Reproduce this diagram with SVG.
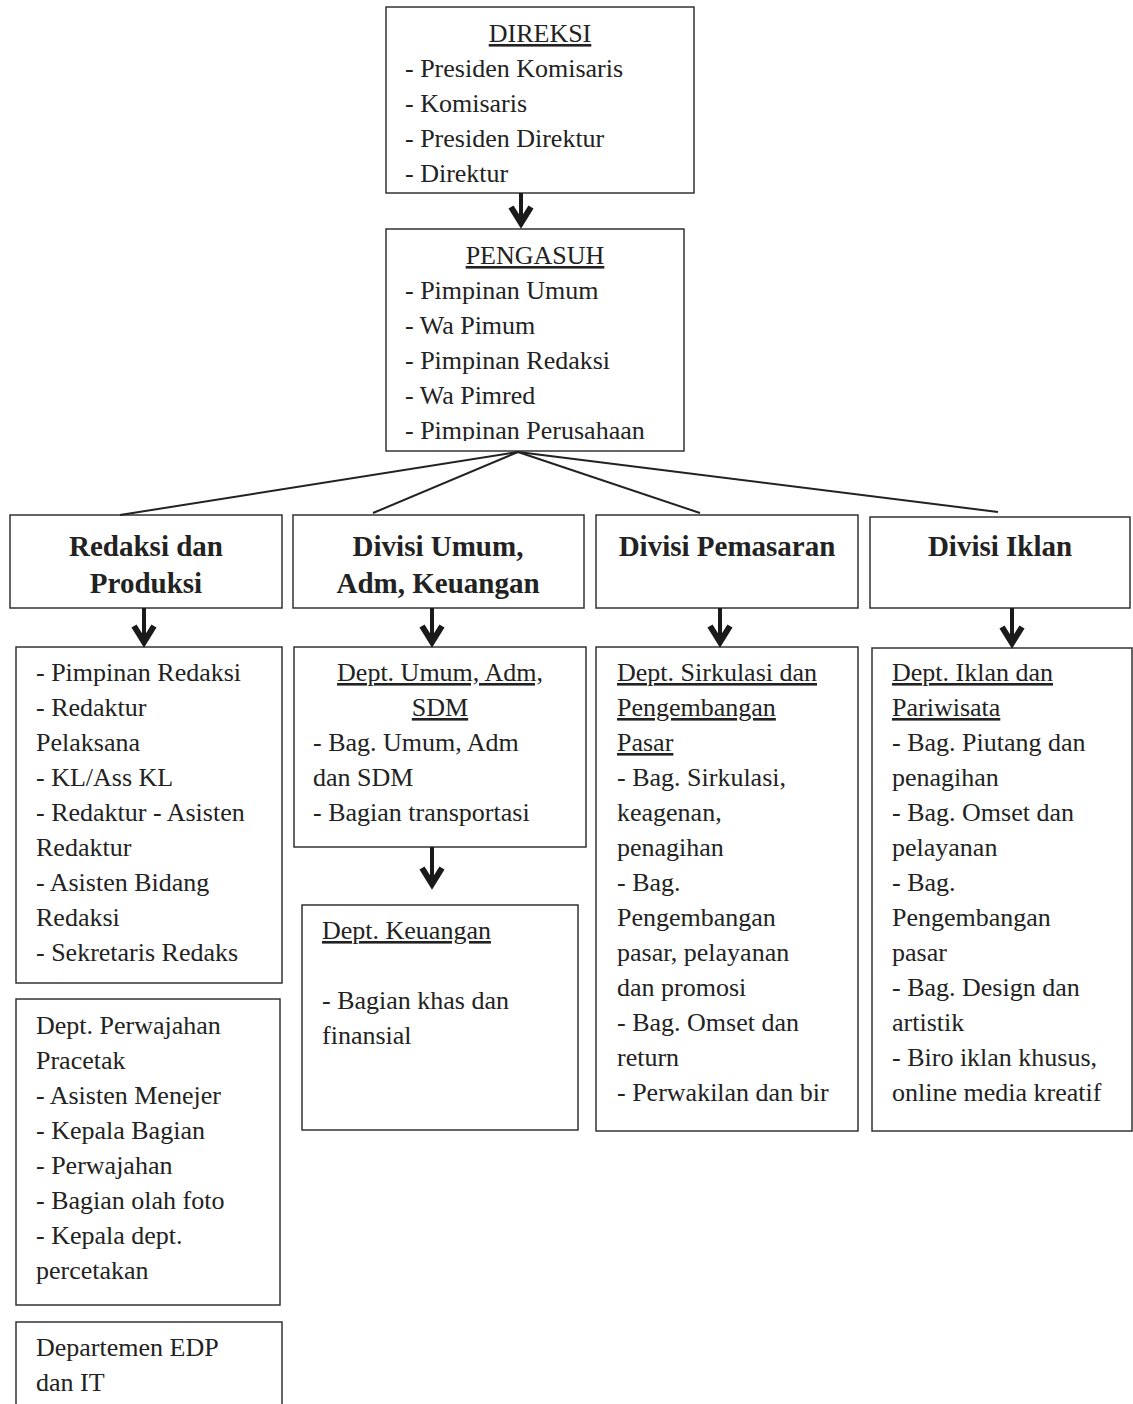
<svg xmlns="http://www.w3.org/2000/svg" width="1133" height="1404" viewBox="0 0 1133 1404">
<style>
.box{fill:#fff;stroke:#333;stroke-width:1.5}
.t{font-family:"Liberation Serif","Times New Roman",serif;font-size:26px;fill:#222}
.u{text-decoration:underline}
.c{text-anchor:middle}
.h{font-family:"Liberation Serif","Times New Roman",serif;font-size:29px;font-weight:bold;fill:#222;text-anchor:middle}
.ln{stroke:#222;stroke-width:2;fill:none}
.sh{stroke:#1a1a1a;stroke-width:4;fill:none}
.hd{stroke:#1a1a1a;stroke-width:6;fill:none;stroke-linejoin:miter;stroke-miterlimit:10;stroke-linecap:butt}
</style>
<defs>
<clipPath id="cp2"><rect x="386" y="229" width="298" height="212"/></clipPath>
</defs>
<rect width="1133" height="1404" fill="#fff"/>
<g id="direksi">
<rect class="box" x="386" y="7" width="308" height="186"/>
<text class="t u c" x="540" y="42">DIREKSI</text>
<text class="t" x="405" y="77">- Presiden Komisaris</text>
<text class="t" x="405" y="112">- Komisaris</text>
<text class="t" x="405" y="147">- Presiden Direktur</text>
<text class="t" x="405" y="182">- Direktur</text>
</g>
<g id="pengasuh">
<rect class="box" x="386" y="229" width="298" height="222"/>
<text class="t u c" x="535" y="264">PENGASUH</text>
<text class="t" x="405" y="299">- Pimpinan Umum</text>
<text class="t" x="405" y="334">- Wa Pimum</text>
<text class="t" x="405" y="369">- Pimpinan Redaksi</text>
<text class="t" x="405" y="404">- Wa Pimred</text>
<text class="t" x="405" y="439" clip-path="url(#cp2)">- Pimpinan Perusahaan</text>
</g>
<g id="div-redaksi">
<rect class="box" x="10" y="515" width="272" height="93"/>
<text class="h" x="146" y="556">Redaksi dan</text>
<text class="h" x="146" y="593">Produksi</text>
</g>
<g id="div-umum">
<rect class="box" x="293" y="515" width="291" height="93"/>
<text class="h" x="438" y="556">Divisi Umum,</text>
<text class="h" x="438" y="593">Adm, Keuangan</text>
</g>
<g id="div-pemasaran">
<rect class="box" x="596" y="515" width="262" height="93"/>
<text class="h" x="727" y="556">Divisi Pemasaran</text>
</g>
<g id="div-iklan">
<rect class="box" x="870" y="517" width="260" height="91"/>
<text class="h" x="1000" y="556">Divisi Iklan</text>
</g>
<g id="redaksi-list">
<rect class="box" x="16" y="647" width="266" height="336"/>
<text class="t" x="36" y="681">- Pimpinan Redaksi</text>
<text class="t" x="36" y="716">- Redaktur</text>
<text class="t" x="36" y="751">Pelaksana</text>
<text class="t" x="36" y="786">- KL/Ass KL</text>
<text class="t" x="36" y="821">- Redaktur - Asisten</text>
<text class="t" x="36" y="856">Redaktur</text>
<text class="t" x="36" y="891">- Asisten Bidang</text>
<text class="t" x="36" y="926">Redaksi</text>
<text class="t" x="36" y="961">- Sekretaris Redaks</text>
</g>
<g id="dept-perwajahan">
<rect class="box" x="16" y="999" width="264" height="306"/>
<text class="t" x="36" y="1034">Dept. Perwajahan</text>
<text class="t" x="36" y="1069">Pracetak</text>
<text class="t" x="36" y="1104">- Asisten Menejer</text>
<text class="t" x="36" y="1139">- Kepala Bagian</text>
<text class="t" x="36" y="1174">- Perwajahan</text>
<text class="t" x="36" y="1209">- Bagian olah foto</text>
<text class="t" x="36" y="1244">- Kepala dept.</text>
<text class="t" x="36" y="1279">percetakan</text>
</g>
<g id="dept-edp">
<rect class="box" x="16" y="1322" width="266" height="120"/>
<text class="t" x="36" y="1356">Departemen EDP</text>
<text class="t" x="36" y="1391">dan IT</text>
</g>
<g id="dept-umum">
<rect class="box" x="294" y="647" width="292" height="200"/>
<text class="t u c" x="440" y="681">Dept. Umum, Adm,</text>
<text class="t u c" x="440" y="716">SDM</text>
<text class="t" x="313" y="751">- Bag. Umum, Adm</text>
<text class="t" x="313" y="786">dan SDM</text>
<text class="t" x="313" y="821">- Bagian transportasi</text>
</g>
<g id="dept-keuangan">
<rect class="box" x="302" y="905" width="276" height="225"/>
<text class="t u" x="322" y="939">Dept. Keuangan</text>
<text class="t" x="322" y="1009">- Bagian khas dan</text>
<text class="t" x="322" y="1044">finansial</text>
</g>
<g id="dept-sirkulasi">
<rect class="box" x="596" y="647" width="262" height="484"/>
<text class="t u" x="617" y="681">Dept. Sirkulasi dan</text>
<text class="t u" x="617" y="716">Pengembangan</text>
<text class="t u" x="617" y="751">Pasar</text>
<text class="t" x="617" y="786">- Bag. Sirkulasi,</text>
<text class="t" x="617" y="821">keagenan,</text>
<text class="t" x="617" y="856">penagihan</text>
<text class="t" x="617" y="891">- Bag.</text>
<text class="t" x="617" y="926">Pengembangan</text>
<text class="t" x="617" y="961">pasar, pelayanan</text>
<text class="t" x="617" y="996">dan promosi</text>
<text class="t" x="617" y="1031">- Bag. Omset dan</text>
<text class="t" x="617" y="1066">return</text>
<text class="t" x="617" y="1101">- Perwakilan dan bir</text>
</g>
<g id="dept-iklan">
<rect class="box" x="872" y="648" width="260" height="483"/>
<text class="t u" x="892" y="681">Dept. Iklan dan</text>
<text class="t u" x="892" y="716">Pariwisata</text>
<text class="t" x="892" y="751">- Bag. Piutang dan</text>
<text class="t" x="892" y="786">penagihan</text>
<text class="t" x="892" y="821">- Bag. Omset dan</text>
<text class="t" x="892" y="856">pelayanan</text>
<text class="t" x="892" y="891">- Bag.</text>
<text class="t" x="892" y="926">Pengembangan</text>
<text class="t" x="892" y="961">pasar</text>
<text class="t" x="892" y="996">- Bag. Design dan</text>
<text class="t" x="892" y="1031">artistik</text>
<text class="t" x="892" y="1066">- Biro iklan khusus,</text>
<text class="t" x="892" y="1101">online media kreatif</text>
</g>
<g id="connectors">
<line class="ln" x1="518" y1="452" x2="120" y2="515"/>
<line class="ln" x1="518" y1="452" x2="373" y2="513"/>
<line class="ln" x1="518" y1="452" x2="700" y2="513"/>
<line class="ln" x1="518" y1="452" x2="998" y2="512"/>
<path class="sh" d="M521,193 V222"/><path class="hd" d="M511,207 L521,223 L531,207"/>
<path class="sh" d="M144,608 V641"/><path class="hd" d="M134,626 L144,642 L154,626"/>
<path class="sh" d="M432,608 V641"/><path class="hd" d="M422,626 L432,642 L442,626"/>
<path class="sh" d="M720,608 V641"/><path class="hd" d="M710,626 L720,642 L730,626"/>
<path class="sh" d="M1012,608 V642"/><path class="hd" d="M1002,627 L1012,643 L1022,627"/>
<path class="sh" d="M432,847 V883"/><path class="hd" d="M422,868 L432,884 L442,868"/>
</g>
</svg>
